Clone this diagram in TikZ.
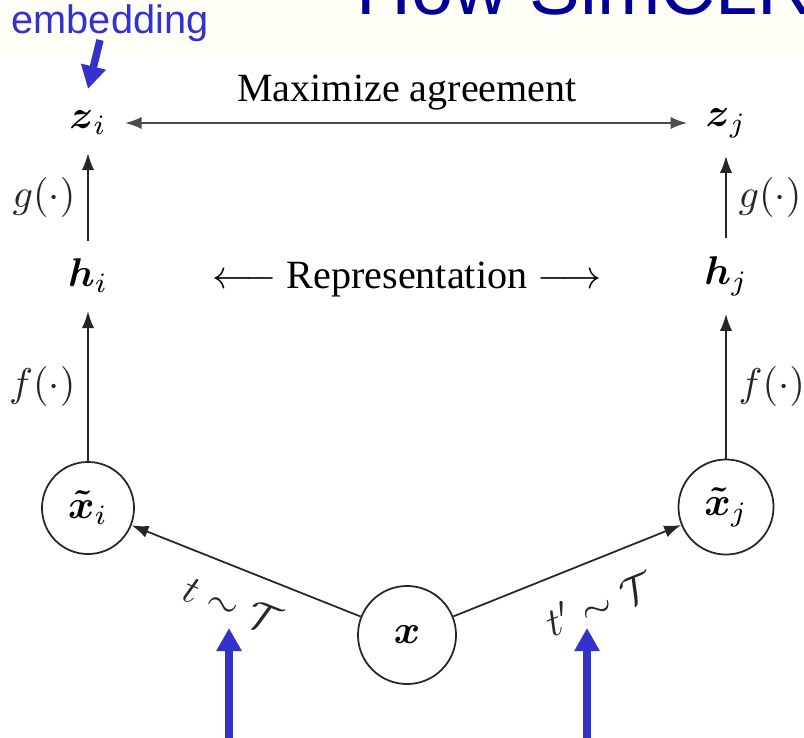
\RequirePackage{fix-cm}
\documentclass[tikz,border=0pt]{standalone}
\usepackage{amsmath}
\usepackage{fontspec}
\setmainfont{Liberation Serif}
\newfontfamily\slidefont{Liberation Sans}
\usetikzlibrary{arrows.meta}
\definecolor{simblue}{HTML}{3333CC}
\definecolor{simnavy}{HTML}{000099}
\definecolor{simcream}{HTML}{FEFEF6}

\begin{document}
\begin{tikzpicture}[x=0.01cm,y=-0.01cm,
  font={\fontsize{11.4}{13.7}\selectfont},
  >={Latex[length=4.8pt,width=3.5pt]},
  vec/.style={inner sep=5pt},
  view/.style={circle,draw,black!85,text=black,line width=0.5pt,inner sep=0pt,minimum size=0.92cm},
  flow/.style={->,line width=0.5pt,black!85},
  callout/.style={simblue,line width=0.075cm,-{Triangle[length=0.23cm,width=0.24cm]}}]
  \useasboundingbox (0,0) rectangle (804,737);
  \clip (0,0) rectangle (804,737);
  % slide header
  \fill[simcream] (0,0) rectangle (804,53);
  \node[anchor=base west,inner sep=0pt,simnavy,font={\slidefont\fontsize{21.6}{26}\selectfont}] (title) at (356,15) {How SimCLR};
  \node[anchor=base west,inner sep=0pt,simblue,font={\slidefont\fontsize{11.3}{13}\selectfont}] (embed) at (11,34) {embedding};

  % projections and representations
  \node[vec] (zi) at (88,123) {$\boldsymbol{z}_i$};
  \node[vec] (zj) at (726,123) {$\boldsymbol{z}_j$};
  \node[vec] (hi) at (88,276) {$\boldsymbol{h}_i$};
  \node[vec] (hj) at (726,276) {$\boldsymbol{h}_j$};
  \node[anchor=base] (agree) at (407,102) {Maximize agreement};
  \node[anchor=base] (repr) at (407,288) {$\longleftarrow$ Representation $\longrightarrow$};

  % augmented views
  \node[view] (xti) at (88,508) {$\boldsymbol{\tilde{x}}_i$};
  \node[view,minimum size=0.95cm] (xtj) at (726,507) {$\boldsymbol{\tilde{x}}_j$};
  \node[view,minimum size=0.98cm] (x) at (407,635) {$\boldsymbol{x}$};

  \draw[flow,<->,black!70,line width=0.7pt] (zi) -- (zj);
  \draw[flow] (hi) -- node[left] {$g(\cdot)$} (zi);
  \draw[flow] (hj) -- node[right] {$g(\cdot)$} (zj);
  \draw[flow] (xti) -- node[left] {$f(\cdot)$} (hi);
  \draw[flow] (xtj) -- node[right] {$f(\cdot)$} (hj);
  \draw[flow,<-] (xti) -- node[sloped,below=3pt,pos=0.5] {$t\sim\mathcal{T}$} (x);
  \draw[flow] (x) -- node[sloped,below=4pt,pos=0.57] {$t'\sim\mathcal{T}$} (xtj);

  % blue pointers
  \coordinate (embtail) at (100,40);
  \coordinate (embtip) at (88,89);
  \coordinate (tfoot) at (229,740);
  \coordinate (ttip) at (229,628);
  \coordinate (tpfoot) at (587,740);
  \coordinate (tptip) at (587,628);
  \draw[callout] (embtail) -- (embtip);
  \draw[callout] (tfoot) -- (ttip);
  \draw[callout] (tpfoot) -- (tptip);
\end{tikzpicture}
\end{document}
